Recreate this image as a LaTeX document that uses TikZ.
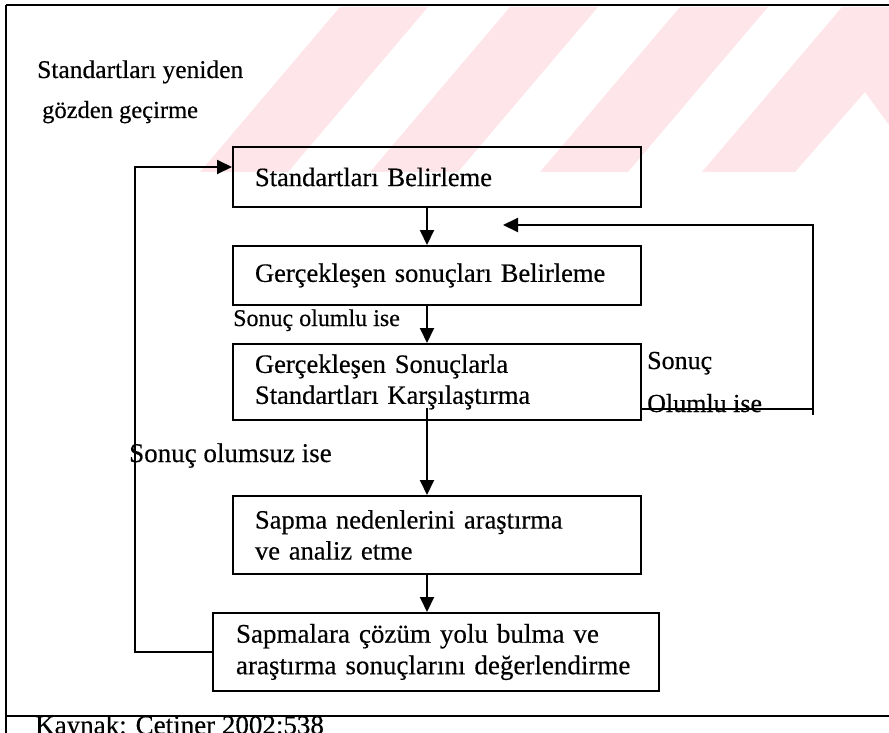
\documentclass[tikz,border=0pt]{standalone}
\usepackage{fontspec}
\setmainfont{Liberation Serif}[UprightFeatures={FakeBold=0.4}]
\usetikzlibrary{arrows.meta,calc}
\definecolor{wm}{RGB}{253,229,233}
\begin{document}
\begin{tikzpicture}[x=1pt,y=-1pt,
  box/.style={draw,line width=2pt,anchor=north west,align=left,inner xsep=22pt,inner ysep=0pt,font=\fontsize{26.5}{31}\selectfont},
  lbl/.style={anchor=base west,inner sep=0pt,font=\fontsize{26}{31}\selectfont},
  conn/.style={line width=2pt},
  arr/.style={conn,-{Triangle[length=15pt,width=14pt]}},
  frameline/.style={line width=2pt}]
\useasboundingbox (0,0) rectangle (889,733);
\clip (0,0) rectangle (889,733);
% watermark
\fill[wm] (340,7) -- (428,7) -- (288,172) -- (200,172) -- cycle;
\fill[wm] (510,7) -- (598,7) -- (458,172) -- (370,172) -- cycle;
\fill[wm] (680,7) -- (768,7) -- (628,172) -- (540,172) -- cycle;
\fill[wm] (842,7) -- (889,7) -- (889,125) -- (865,92) -- (795,172) -- (702,172) -- cycle;
% frame
\draw[frameline] (6,5) -- (889,5);
\draw[frameline] (6,5) -- (6,733);
\draw[frameline] (6,716) -- (889,716);
% texts
\node[lbl,font=\fontsize{25.5}{30}\selectfont] (t1) at (37,78) {Standartları yeniden};
\node[lbl,font=\fontsize{24.5}{29}\selectfont] (t2) at (42,118) {gözden geçirme};
% boxes
\node[box,minimum width=408pt,minimum height=60pt,text width=364pt] (b1) at (232,146) {Standartları Belirleme};
\node[box,minimum width=408pt,minimum height=59pt,text width=364pt] (b2) at (232,245) {Gerçekleşen sonuçları Belirleme};
\node[box,minimum width=408pt,minimum height=76pt,text width=364pt] (b3) at (232,343) {Gerçekleşen Sonuçlarla\\Standartları Karşılaştırma};
\node[box,minimum width=408pt,minimum height=78pt,text width=364pt] (b4) at (232,495) {Sapma nedenlerini araştırma\\ve analiz etme};
\node[box,minimum width=446pt,minimum height=78pt,text width=400pt,inner xsep=23pt,font=\fontsize{27}{31.5}\selectfont] (b5) at (212,612) {Sapmalara çözüm yolu bulma ve\\araştırma sonuçlarını değerlendirme};
% labels
\node[lbl,font=\fontsize{24}{28}\selectfont] (l1) at (233,326) {Sonuç olumlu ise};
\node[lbl] (l2) at (647,369) {Sonuç};
\node[lbl] (l3) at (647,412) {Olumlu ise};
\node[lbl,font=\fontsize{27}{31}\selectfont] (l4) at (129,462) {Sonuç olumsuz ise};
\node[lbl,font=\fontsize{27}{31}\selectfont] (src) at (35,734) {Kaynak: Çetiner 2002:538};
% connectors
\coordinate (ax) at (427,0);
\coordinate (lx) at (135,0);
\coordinate (rx) at (813,0);
\coordinate (rtip) at (503,225);
\coordinate (c3) at (427,408);
\coordinate (b1in) at ($(b1.north west)+(0,21)$);
\coordinate (r0) at ($(b3.south east)+(0,-12)$);
\draw[arr] (b1.south -| ax) -- (b2.north -| ax);
\draw[arr] (b2.south -| ax) -- (b3.north -| ax);
\draw[arr] (c3) -- (b4.north -| ax);
\draw[arr] (b4.south -| ax) -- (b5.north -| ax);
\draw[arr] (b5.west) -- (b5.west -| lx) -- (b1in -| lx) -- (b1in);
\draw[arr] (r0) -- (r0 -| rx) -- (rx |- rtip) -- (rtip);
\draw[conn] (r0 -| rx) -- ++(0,6);
\end{tikzpicture}
\end{document}
